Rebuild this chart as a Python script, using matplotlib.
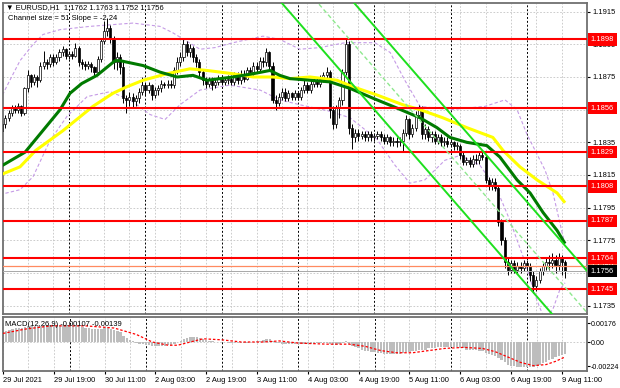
import numpy as np
import pandas as pd
import matplotlib
matplotlib.use("Agg")
import matplotlib.pyplot as plt
from matplotlib.patches import Rectangle

plt.rcParams['font.family'] = ['Liberation Sans', 'DejaVu Sans']

# ---- EURUSD H1 ----
# first visible bar is 29 Jul 03:00, last one 9 Aug 12:00
first_open = 1.1842
closes = [
    1.1846, 1.1850, 1.1853, 1.1856, 1.1855, 1.1857, 1.1853, 1.1868, 1.1876, 1.1872,
    1.1875, 1.1873, 1.1882, 1.1884, 1.1883, 1.1887, 1.1884, 1.1887, 1.1890, 1.1892,
    1.1888, 1.1889, 1.1888, 1.1893, 1.1884, 1.1883, 1.1882, 1.1883, 1.1881, 1.1878,
    1.1886, 1.1897, 1.1903, 1.1905, 1.1898, 1.1884, 1.1887, 1.1881, 1.1862, 1.1861,
    1.1863, 1.1860, 1.1862, 1.1866, 1.1870, 1.1867, 1.1870, 1.1864, 1.1867, 1.1868,
    1.1871, 1.1870, 1.1871, 1.1870, 1.1879, 1.1884, 1.1887, 1.1895, 1.1890, 1.1893,
    1.1887, 1.1884, 1.1878, 1.1873, 1.1871, 1.1873, 1.1870, 1.1872, 1.1874, 1.1872,
    1.1873, 1.1874, 1.1872, 1.1876, 1.1873, 1.1877, 1.1874, 1.1879, 1.1878, 1.1882,
    1.1880, 1.1885, 1.1884, 1.1890, 1.1882, 1.1861, 1.1859, 1.1863, 1.1866, 1.1862,
    1.1865, 1.1863, 1.1865, 1.1863, 1.1867, 1.1870, 1.1867, 1.1871, 1.1873, 1.1871,
    1.1874, 1.1876, 1.1878, 1.1855, 1.1846, 1.1856, 1.1861, 1.1878, 1.1895, 1.1844,
    1.1838, 1.1841, 1.1839, 1.1840, 1.1838, 1.1840, 1.1838, 1.1839, 1.1840, 1.1838,
    1.1836, 1.1838, 1.1835, 1.1836, 1.1835, 1.1836, 1.1841, 1.1849, 1.1840, 1.1844,
    1.1852, 1.1855, 1.1840, 1.1843, 1.1838, 1.1840, 1.1836, 1.1838, 1.1835, 1.1836,
    1.1834, 1.1835, 1.1833, 1.1833, 1.1827, 1.1823, 1.1824, 1.1822, 1.1825, 1.1824,
    1.1827, 1.1826, 1.1812, 1.1809, 1.1811, 1.1807, 1.1786, 1.1775, 1.1762, 1.1757,
    1.1761, 1.1757, 1.1759, 1.1758, 1.1761, 1.1759, 1.1754, 1.1747, 1.1751, 1.1756,
    1.1759, 1.1762, 1.1761, 1.1763, 1.1760, 1.1764, 1.1762, 1.1756]
highs = [
    1.1849, 1.1852, 1.1855, 1.1858, 1.1858, 1.1859, 1.1858, 1.1869, 1.1879, 1.1877,
    1.1877, 1.1876, 1.1884, 1.1891, 1.1886, 1.1889, 1.1889, 1.1889, 1.1892, 1.1894,
    1.1893, 1.1891, 1.1891, 1.1896, 1.1894, 1.1886, 1.1885, 1.1885, 1.1884, 1.1882,
    1.1888, 1.1899, 1.1909, 1.1911, 1.1907, 1.1900, 1.1890, 1.1889, 1.1884, 1.1864,
    1.1866, 1.1865, 1.1864, 1.1868, 1.1875, 1.1872, 1.1872, 1.1871, 1.1869, 1.1870,
    1.1873, 1.1872, 1.1873, 1.1873, 1.1881, 1.1887, 1.1890, 1.1898, 1.1897, 1.1895,
    1.1894, 1.1889, 1.1886, 1.1880, 1.1875, 1.1875, 1.1875, 1.1874, 1.1876, 1.1876,
    1.1875, 1.1876, 1.1876, 1.1878, 1.1878, 1.1879, 1.1879, 1.1881, 1.1881, 1.1884,
    1.1884, 1.1887, 1.1887, 1.1893, 1.1891, 1.1884, 1.1864, 1.1865, 1.1868, 1.1868,
    1.1867, 1.1866, 1.1867, 1.1866, 1.1869, 1.1873, 1.1872, 1.1873, 1.1875, 1.1875,
    1.1876, 1.1878, 1.1881, 1.1879, 1.1857, 1.1858, 1.1863, 1.1880, 1.1899, 1.1897,
    1.1846, 1.1843, 1.1843, 1.1842, 1.1842, 1.1842, 1.1842, 1.1841, 1.1842, 1.1842,
    1.1840, 1.1840, 1.1839, 1.1838, 1.1838, 1.1838, 1.1843, 1.1852, 1.1850, 1.1846,
    1.1854, 1.1858, 1.1857, 1.1846, 1.1845, 1.1842, 1.1842, 1.1840, 1.1840, 1.1838,
    1.1838, 1.1837, 1.1836, 1.1835, 1.1834, 1.1829, 1.1826, 1.1826, 1.1827, 1.1828,
    1.1829, 1.1830, 1.1828, 1.1814, 1.1813, 1.1813, 1.1809, 1.1788, 1.1777, 1.1764,
    1.1763, 1.1763, 1.1762, 1.1762, 1.1763, 1.1763, 1.1761, 1.1756, 1.1753, 1.1758,
    1.1761, 1.1765, 1.1766, 1.1767, 1.1766, 1.1767, 1.1766, 1.1763]
lows = [
    1.1838, 1.1844, 1.1848, 1.1851, 1.1853, 1.1853, 1.1851, 1.1852, 1.1866, 1.1869,
    1.1870, 1.1869, 1.1872, 1.1880, 1.1880, 1.1881, 1.1882, 1.1883, 1.1885, 1.1888,
    1.1886, 1.1886, 1.1886, 1.1887, 1.1882, 1.1880, 1.1879, 1.1880, 1.1878, 1.1875,
    1.1876, 1.1884, 1.1895, 1.1900, 1.1896, 1.1880, 1.1879, 1.1877, 1.1859, 1.1853,
    1.1857, 1.1856, 1.1857, 1.1859, 1.1864, 1.1864, 1.1865, 1.1861, 1.1862, 1.1864,
    1.1866, 1.1868, 1.1868, 1.1868, 1.1868, 1.1877, 1.1882, 1.1885, 1.1888, 1.1887,
    1.1884, 1.1881, 1.1875, 1.1870, 1.1868, 1.1869, 1.1867, 1.1868, 1.1870, 1.1870,
    1.1870, 1.1871, 1.1870, 1.1870, 1.1871, 1.1871, 1.1872, 1.1873, 1.1875, 1.1876,
    1.1878, 1.1878, 1.1881, 1.1882, 1.1880, 1.1859, 1.1855, 1.1857, 1.1861, 1.1860,
    1.1860, 1.1861, 1.1861, 1.1861, 1.1861, 1.1865, 1.1865, 1.1865, 1.1869, 1.1869,
    1.1869, 1.1872, 1.1874, 1.1850, 1.1843, 1.1844, 1.1850, 1.1858, 1.1876, 1.1840,
    1.1831, 1.1835, 1.1836, 1.1837, 1.1836, 1.1836, 1.1836, 1.1836, 1.1837, 1.1836,
    1.1834, 1.1834, 1.1833, 1.1833, 1.1832, 1.1833, 1.1829, 1.1839, 1.1837, 1.1838,
    1.1842, 1.1850, 1.1837, 1.1837, 1.1836, 1.1835, 1.1834, 1.1834, 1.1833, 1.1833,
    1.1832, 1.1832, 1.1830, 1.1830, 1.1825, 1.1821, 1.1821, 1.1820, 1.1820, 1.1822,
    1.1822, 1.1824, 1.1810, 1.1806, 1.1806, 1.1805, 1.1784, 1.1772, 1.1758, 1.1754,
    1.1755, 1.1755, 1.1755, 1.1755, 1.1756, 1.1757, 1.1750, 1.1743, 1.1744, 1.1749,
    1.1754, 1.1757, 1.1757, 1.1758, 1.1755, 1.1757, 1.1754, 1.1752]

# moving averages, (bar index, price)
ma_green_x = [2.3, 10.2, 21.2, 24.3, 28, 32.8, 38.5, 40, 47.3, 52.6, 58, 63, 67.4, 75.6,
              81.9, 87.2, 90.3, 93.5, 99.8, 106.1, 112.4, 119.6, 127.1, 134.4, 139.7,
              143.8, 149.1, 155.4, 159.5, 164.9, 169, 173.1, 177.5, 180]
ma_green_y = [1.1820, 1.1829, 1.1855, 1.1865, 1.1871, 1.1876, 1.1885, 1.1885, 1.1882,
              1.1878, 1.1875, 1.1876, 1.1873, 1.1875, 1.1877, 1.1879, 1.1876, 1.1874,
              1.1873, 1.1872, 1.1868, 1.1862, 1.1856, 1.1850, 1.1844, 1.1838, 1.1835,
              1.1833, 1.1826, 1.1812, 1.1804, 1.1792, 1.1781, 1.1773]
ma_yellow_x = [2.3, 8.6, 13.5, 22, 31.5, 37.8, 42.2, 47.3, 54.8, 62, 67.4, 75.6, 81.9,
               88.1, 93.5, 99.8, 108.3, 113.3, 120.8, 129, 134.4, 141.6, 149.1, 157.3,
               160.5, 165.8, 171.2, 177.5, 180]
ma_yellow_y = [1.1815, 1.1820, 1.1830, 1.1842, 1.1857, 1.1865, 1.1869, 1.1873, 1.1877,
               1.1880, 1.1879, 1.1877, 1.1875, 1.1875, 1.1874, 1.1875, 1.1873, 1.1869,
               1.1864, 1.1858, 1.1855, 1.1850, 1.1844, 1.1838, 1.1830, 1.1820, 1.1812,
               1.1804, 1.1798]

# purple dotted bands
band_up_x = [2.3, 5.4, 8.6, 12.7, 15.8, 21.2, 30.6, 44.1, 52.6, 56.7, 65.2, 69.9, 75.6,
             85.0, 90.3, 96.6, 102.9, 110.8, 120.2, 125.0, 129.6, 134.4, 143.8, 154.8,
             161.1, 164.9, 168.0, 173.7, 176.2, 179.4, 180.0]
band_up_y = [1.1861, 1.1873, 1.1885, 1.1895, 1.1901, 1.1904, 1.1906, 1.1908, 1.1906,
             1.1902, 1.1892, 1.1893, 1.1896, 1.1900, 1.1898, 1.1892, 1.1893, 1.1896,
             1.1896, 1.1890, 1.1873, 1.1857, 1.1855, 1.1857, 1.1861, 1.1855, 1.1840,
             1.1818, 1.1804, 1.1777, 1.1773]
band_dn_x = [2.3, 8.6, 12.7, 18.0, 23.4, 29.7, 36.9, 43.2, 49.5, 54.2, 58.9, 65.2, 74.6,
             84.1, 90.3, 96.6, 106.1, 112.4, 120.8, 126.5, 131.2, 135.9, 142.2, 147.0,
             153.2, 158.6, 162.7, 166.8, 171.2, 173.7, 176.2, 178.4, 180.0]
band_dn_y = [1.1803, 1.1806, 1.1814, 1.1836, 1.1851, 1.1863, 1.1866, 1.1861, 1.1852,
             1.1849, 1.1858, 1.1867, 1.1870, 1.1867, 1.1861, 1.1858, 1.1854, 1.1850,
             1.1837, 1.1821, 1.1810, 1.1812, 1.1824, 1.1827, 1.1821, 1.1806, 1.1787,
             1.1765, 1.1738, 1.1726, 1.1733, 1.1745, 1.1749]

# horizontal levels
levels = [1.1898, 1.1856, 1.1829, 1.1808, 1.1787, 1.1764, 1.1745]
level_orange = 1.1759
bid = 1.1756

# regression channel: middle line through (bar, price), slope per bar, full width
chan_bar = 131
chan_price = 1.1856
chan_slope = -0.000224
chan_size = 0.0051

# MACD(12,26,9), main line per bar in units of 1e-4
macd_main = np.array([
    9, 10, 11, 12, 13, 13, 13, 14, 15, 15,
    15, 15, 15, 16, 16, 16, 16, 16, 16, 16,
    16, 16, 15, 15, 15, 14, 13, 13, 12, 12,
    12, 12, 13, 13, 12, 11, 10, 9, 6, 4,
    2, 1, -1, -2, -2, -3, -3, -4, -4, -4,
    -4, -4, -3, -3, -2, 0, 1, 3, 4, 5,
    5, 5, 4, 3, 2, 1, 1, 0, 0, 0,
    0, -1, -1, -1, -1, -1, -1, -1, 0, 0,
    1, 1, 2, 3, 3, 1, -1, -1, -2, -2,
    -2, -2, -2, -2, -2, -2, -2, -2, -2, -1,
    -1, -1, -1, -2, -3, -3, -2, -1, 1, -2,
    -4, -5, -6, -7, -8, -8, -9, -9, -10, -10,
    -11, -11, -11, -11, -11, -11, -10, -9, -9, -8,
    -8, -7, -7, -7, -6, -6, -6, -5, -5, -5,
    -5, -5, -5, -5, -6, -6, -7, -7, -7, -7,
    -8, -8, -10, -11, -12, -13, -15, -17, -19, -21,
    -22, -22, -23, -23, -23, -23, -23, -23, -22, -21,
    -20, -19, -17, -16, -14, -13, -12, -10.7]) * 1e-4
signal_x = [3, 10, 18, 29, 38, 45, 50, 55, 58, 62, 66, 72, 78, 85, 90, 96, 105, 112,
            117, 122, 127, 132, 137, 142, 148, 154, 158, 162, 166, 170, 174, 177, 180]
signal_y = np.array([8, 12, 15, 15, 13, 7, 0, -3, -3, 0, 3, 2, 0, 0, 1, -1, -2, -2,
                     -4, -8, -10, -10, -8, -6, -5, -6, -9, -14, -19, -22, -21, -18,
                     -13.9]) * 1e-4

tick_times = ['2021-07-29 03:00', '2021-07-29 19:00', '2021-07-30 11:00',
              '2021-08-02 03:00', '2021-08-02 19:00', '2021-08-03 11:00',
              '2021-08-04 03:00', '2021-08-04 19:00', '2021-08-05 11:00',
              '2021-08-06 03:00', '2021-08-06 19:00', '2021-08-09 11:00']
tick_labels = ['29 Jul 2021', '29 Jul 19:00', '30 Jul 11:00', '2 Aug 03:00',
               '2 Aug 19:00', '3 Aug 11:00', '4 Aug 03:00', '4 Aug 19:00',
               '5 Aug 11:00', '6 Aug 03:00', '6 Aug 19:00', '9 Aug 11:00']


def price_tag(ax, y, text, fc, z):
    ax.text(1.0065, y, text, transform=ax.get_yaxis_transform(), ha='left',
            va='center', fontsize=5.4, color='white', clip_on=False, zorder=z,
            bbox=dict(boxstyle='square,pad=0.35', fc=fc, ec='none'))


def main():
    # trading hours (weekend removed) -> bar index
    hours = pd.date_range('2021-07-29 00:00', '2021-08-09 12:00', freq='h')
    hours = hours[hours.dayofweek < 5]
    n0 = len(hours) - len(closes)
    bars = np.arange(n0, len(hours))
    tick_pos = [hours.get_loc(pd.Timestamp(t)) for t in tick_times]
    grid_pos = np.arange(tick_pos[0], len(hours) + 8, 8)
    day_pos = [i for i in range(1, len(hours)) if hours[i].hour == 0]

    c = np.array(closes)
    o = np.r_[first_open, c[:-1]]
    h = np.array(highs)
    lo = np.array(lows)

    fig = plt.figure(figsize=(6.2, 3.88), dpi=100)
    ax = fig.add_axes([3 / 620, 74 / 388, 584 / 620, 311 / 388])
    ax2 = fig.add_axes([3 / 620, 17 / 388, 584 / 620, 54 / 388])
    xlim = (3.24, 186.9)

    # ---- price window ----
    ax.set_xlim(*xlim)
    ax.set_ylim(1.17299, 1.19203)
    price_ticks = np.round(np.arange(1.1735, 1.1916, 0.002), 4)
    grid = dict(color='#c4c4c4', lw=0.6, ls=(0, (2, 2)), zorder=0)
    for p in price_ticks:
        ax.axhline(p, **grid)
    for a in (ax, ax2):
        for t in grid_pos:
            a.axvline(t, **grid)
        for d in day_pos:
            a.axvline(d, color='black', lw=0.7, ls=(0, (2, 2)), zorder=1)

    ax.plot(band_up_x, band_up_y, color='#c59be6', lw=0.8, ls=(0, (3, 2)), zorder=2)
    ax.plot(band_dn_x, band_dn_y, color='#c59be6', lw=0.8, ls=(0, (3, 2)), zorder=2)

    # candles
    ax.vlines(bars, lo, h, color='black', lw=0.7, zorder=3)
    for x, op, cl in zip(bars, o, c):
        bull = cl >= op
        ax.add_patch(Rectangle((x - 0.33, min(op, cl)), 0.66, max(abs(cl - op), 0.00003),
                               fc='white' if bull else 'black', ec='black', lw=0.5,
                               zorder=4))

    ax.plot(ma_yellow_x, ma_yellow_y, color='#ffff00', lw=2.2, zorder=5,
            solid_capstyle='butt')
    ax.plot(ma_green_x, ma_green_y, color='#007a00', lw=2.2, zorder=5,
            solid_capstyle='butt')

    ax.axhline(bid, color='#a8a8a8', lw=0.7, zorder=5)
    ax.axhline(level_orange, color='#ff8a60', lw=0.9, zorder=5)
    for lv in levels:
        ax.axhline(lv, color='#ff0000', lw=1.5, zorder=6)

    xs = np.array(xlim)
    mid = chan_price + chan_slope * (xs - chan_bar)
    ax.plot(xs, mid + chan_size / 2, color='#1ee01e', lw=1.4, zorder=7)
    ax.plot(xs, mid - chan_size / 2, color='#1ee01e', lw=1.4, zorder=7)
    ax.plot(xs, mid, color='#8ee88e', lw=1.0, ls=(0, (3, 2)), zorder=7)

    # tick labels hidden behind the price tags are left blank
    covered = levels + [bid]
    ylabels = ['' if any(abs(p - lv) < 0.00015 for lv in covered) else f'{p:.4f}'
               for p in price_ticks]
    ax.yaxis.tick_right()
    ax.set_yticks(price_ticks, ylabels)
    ax.tick_params(axis='y', labelsize=5.4, length=2, pad=2)
    ax.set_xticks([])

    price_tag(ax, level_orange, f'{level_orange:.4f}', '#ff7a55', 18)
    for lv in levels:
        price_tag(ax, lv, f'{lv:.4f}', '#ff0000', 19)
    price_tag(ax, bid, f'{bid:.4f}', '#000000', 20)

    fig.text(6 / 620, 1 - 8 / 388, '\u25bc EURUSD,H1  1.1762 1.1763 1.1752 1.1756',
             fontsize=5.5, va='center')
    fig.text(8 / 620, 1 - 18 / 388, 'Channel size = 51 Slope = -2.24',
             fontsize=5.5, va='center')

    # ---- MACD window ----
    ax2.set_xlim(*xlim)
    ax2.set_ylim(-0.002698, 0.002326)
    ax2.axhline(0, **grid)
    ax2.bar(bars, macd_main, width=0.75, color='#bdbdbd', zorder=2)
    ax2.plot(signal_x, signal_y, color='#ff0000', lw=0.9, ls=(0, (2, 1.5)), zorder=3)
    ax2.yaxis.tick_right()
    ax2.set_yticks([0.00176, 0, -0.00224], ['0.00176', '0.00', '-0.00224'])
    ax2.tick_params(axis='y', labelsize=5.1, length=2, pad=0.8)
    ax2.set_xticks(tick_pos, tick_labels)
    for lbl in ax2.get_xticklabels():
        lbl.set_ha('left')
    ax2.tick_params(axis='x', labelsize=5.4, length=2, pad=2)
    ax2.text(0.004, 0.87, 'MACD(12,26,9) -0.00107 -0.00139', transform=ax2.transAxes,
             fontsize=5.5, va='center', zorder=10)

    for a in (ax, ax2):
        for s in a.spines.values():
            s.set_color('#707070')
            s.set_linewidth(1.3)

    fig.savefig('out.png', dpi=100)


if __name__ == "__main__":
    main()
